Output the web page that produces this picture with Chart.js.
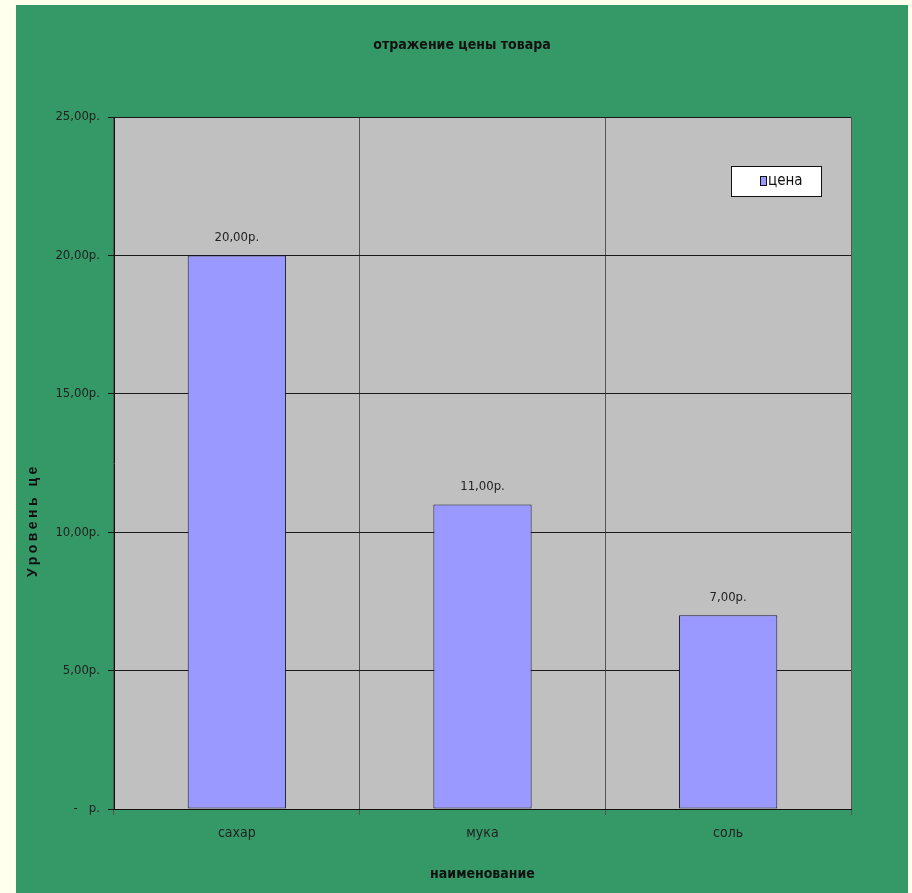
<!DOCTYPE html>
<html>
<head>
<meta charset="utf-8">
<script src="https://cdn.jsdelivr.net/npm/chart.js@4"></script>
<style>
  body { margin: 0; background: #FFFFEE; width: 912px; height: 893px; overflow: hidden; }
  #wrap { position: absolute; left: 16px; top: 5px; width: 892px; height: 888px; background: #349966; }
</style>
</head>
<body>
<div id="wrap"><canvas id="priceChart"></canvas></div>
<script>
// отражение цены товара
const categories = ["сахар", "мука", "соль"];
const prices = [20, 11, 7];
const yTicks = [0, 5, 10, 15, 20, 25];

const FONT = '"Liberation Sans Narrow", "DejaVu Sans Condensed", "Liberation Sans", sans-serif';
const BOLD = '"Liberation Sans", Arial, sans-serif';

function rub(v) {
  if (v === 0) return "-   р.";
  return v.toFixed(2).replace(".", ",") + "р.";
}

const decor = {
  id: "decor",
  beforeDraw(chart) {
    const { ctx, chartArea: a } = chart;
    ctx.save();
    ctx.fillStyle = "#C0C0C0";
    ctx.fillRect(a.left, a.top, a.right - a.left, a.bottom - a.top);
    ctx.restore();
  },
  afterDraw(chart) {
    const { ctx, chartArea: a } = chart;
    ctx.save();
    // title
    ctx.fillStyle = "#111";
    ctx.font = "bold 14px " + FONT;
    ctx.textAlign = "center";
    ctx.textBaseline = "middle";
    ctx.fillText("отражение цены товара", chart.width / 2, 40);

    // x title
    ctx.font = "bold 14px " + FONT;
    ctx.fillText("наименование", (a.left + a.right) / 2, 869);

    // value labels
    ctx.font = "13px " + FONT;
    ctx.fillStyle = "#222";
    const meta = chart.getDatasetMeta(0);
    meta.data.forEach((bar, i) => {
      ctx.fillText(rub(prices[i]), bar.x, bar.y - 18);
    });

    // legend
    const lx = 715, ly = 161, lw = 90, lh = 30;
    ctx.fillStyle = "#fff";
    ctx.fillRect(lx, ly, lw, lh);
    ctx.strokeStyle = "#111";
    ctx.lineWidth = 1;
    ctx.strokeRect(lx + 0.5, ly + 0.5, lw, lh);
    ctx.fillStyle = "#9999FF";
    ctx.fillRect(lx + 29.5, ly + 10.5, 6, 9);
    ctx.strokeRect(lx + 29.5, ly + 10.5, 6, 9);
    ctx.fillStyle = "#111";
    ctx.textAlign = "left";
    ctx.font = "15px " + FONT;
    ctx.fillText("цена", lx + 37, ly + 15);

    // y title (cut at the top like the original)
    ctx.beginPath();
    ctx.rect(0, 458, 60, 200);
    ctx.clip();
    ctx.translate(17, 572);
    ctx.rotate(-Math.PI / 2);
    ctx.font = "bold 14px " + BOLD;
    ctx.letterSpacing = "3.5px";
    ctx.textAlign = "left";
    ctx.fillText("Уровень цен", 0, 0);
    ctx.restore();
  }
};

new Chart(document.getElementById("priceChart"), {
  type: "bar",
  data: {
    labels: categories,
    datasets: [{
      label: "цена",
      data: prices,
      backgroundColor: "#9999FF",
      borderColor: "#1a1a3a",
      borderWidth: 1,
      borderSkipped: false,
      barPercentage: 0.4,
      categoryPercentage: 1
    }]
  },
  options: {
    responsive: true,
    maintainAspectRatio: false,
    animation: false,
    layout: {
      padding: { left: 0, top: 112, right: 57, bottom: 0 }
    },
    scales: {
      x: {
        afterFit: s => { s.height = 84; },
        grid: {
          offset: true,
          color: "#555",
          tickLength: 6,
          drawTicks: true
        },
        border: { color: "#111", width: 1 },
        ticks: {
          color: "#222",
          padding: 10,
          font: { family: FONT, size: 14 }
        }
      },
      y: {
        min: 0,
        max: 25,
        afterFit: s => { s.width = 98; },
        afterBuildTicks: s => { s.ticks = yTicks.map(v => ({ value: v })); },
        grid: {
          color: "#1a1a1a",
          tickLength: 6
        },
        border: { color: "#111", width: 1 },
        ticks: {
          color: "#222",
          padding: 8,
          font: { family: FONT, size: 13 },
          callback: v => rub(v)
        }
      }
    },
    plugins: {
      legend: { display: false },
      tooltip: { enabled: false },
      title: { display: false }
    }
  },
  plugins: [decor]
});
</script>
</body>
</html>
